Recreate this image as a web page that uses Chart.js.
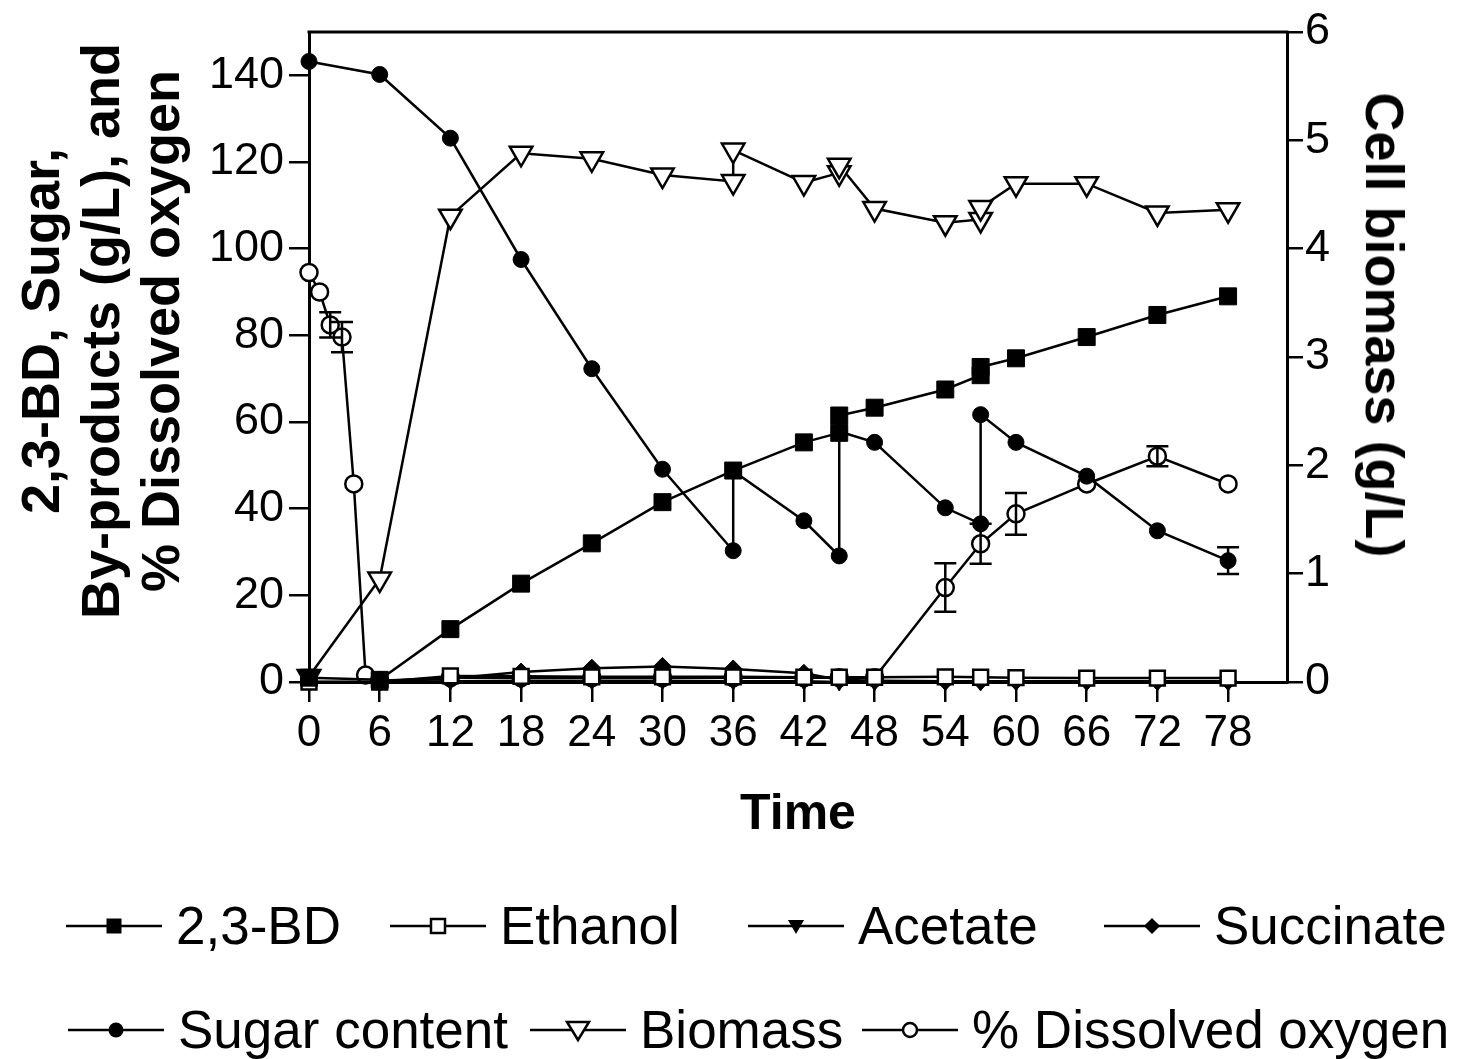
<!DOCTYPE html>
<html><head><meta charset="utf-8">
<script src="https://cdn.jsdelivr.net/npm/chart.js@4.4.1/dist/chart.umd.min.js"></script>
<style>
html,body{margin:0;padding:0;background:#fff;}
#wrap{position:relative;width:1468px;height:1059px;overflow:hidden;background:#fff;}
canvas{position:absolute;left:0;top:0;}
.lg{position:absolute;display:flex;align-items:center;height:60px;font-family:"Liberation Sans",Arial,sans-serif;font-size:53px;line-height:60px;color:#000;white-space:nowrap;}
.lg svg{margin-right:14px;flex:none;}
.ytitle{position:absolute;font-family:"Liberation Sans",Arial,sans-serif;font-weight:bold;font-size:54px;line-height:60px;color:#000;white-space:nowrap;text-align:center;}
</style></head><body>
<div id="wrap"><canvas id="c" width="1468" height="1059"></canvas><div id="titles"></div><div id="legend"></div></div>
<script>
// ---- Data ----
const xTicks = [0, 6, 12, 18, 24, 30, 36, 42, 48, 54, 60, 66, 72, 78];
const yLeftTicks = [0, 20, 40, 60, 80, 100, 120, 140];
const yRightTicks = [0, 1, 2, 3, 4, 5, 6];

const timeBD = [0, 6, 12, 18, 24, 30, 36, 42, 45, 45, 48, 54, 57, 57, 60, 66, 72, 78];
const bd = [1, 0.5, 12.2, 22.7, 32, 41.5, 48.8, 55.3, 57.5, 61.5, 63.3, 67.5, 70.8, 72.7, 74.7, 79.6, 84.7, 89];

const timeProd = [0, 6, 12, 18, 24, 30, 36, 42, 45, 48, 54, 57, 60, 66, 72, 78];
const ethanol = [0, 0, 1.4, 1.3, 1.2, 1.2, 1.2, 1.1, 1.1, 1.1, 1.2, 1.1, 1.0, 0.9, 0.9, 0.9];
const acetate = [0, 0, 0.2, 0.3, 0.3, 0.3, 0.2, 0.2, 0, 0, 0, 0, 0, 0, 0, 0];
const succinate = [0, 0, 0.8, 2.3, 3.2, 3.6, 3.0, 2.0, 0.5, 0.3, 0.2, 0.2, 0.2, 0.2, 0.2, 0.2];

const timeSugar = [0, 6, 12, 18, 24, 30, 36, 36, 42, 45, 45, 48, 54, 57, 57, 60, 66, 72, 78];
const sugar = [143.2, 140.2, 125.5, 97.5, 72.3, 49.1, 30.3, 48.7, 37.2, 29.1, 57.8, 55.3, 40.2, 36.5, 61.7, 55.3, 47.5, 34.9, 28];
const sugarErr = [0, 0, 0, 0, 0, 0, 0, 0, 0, 0, 0, 0, 0, 0, 0, 0, 0, 0, 3.1];

const timeBio = [0, 6, 12, 18, 24, 30, 36, 36, 42, 45, 45, 48, 54, 57, 57, 60, 66, 72, 78];
const biomass = [0.05, 0.95, 4.30, 4.88, 4.83, 4.68, 4.62, 4.91, 4.61, 4.70, 4.77, 4.37, 4.24, 4.27, 4.38, 4.60, 4.60, 4.33, 4.36];

const timeDO = [0, 0.9, 1.8, 2.8, 3.8, 4.8, 6, 12, 18, 24, 30, 36, 42, 45, 48, 54, 57, 60, 66, 72, 78];
const dissolvedO2 = [94.5, 90, 82.4, 79.6, 45.7, 1.6, 0.3, 1, 1, 1, 1, 1, 1, 1, 1, 21.8, 31.9, 38.8, 45.7, 52.1, 45.7];
const dissolvedO2Err = [0, 0, 2.9, 3.5, 0, 0, 0, 0, 0, 0, 0, 0, 0, 0, 0, 5.6, 4.6, 4.8, 0, 2.3, 0];

const seriesNames = ['2,3-BD', 'Ethanol', 'Acetate', 'Succinate', 'Sugar content', 'Biomass', '% Dissolved oxygen'];
const xTitle = 'Time';
const yLeftTitle = ['2,3-BD, Sugar,', 'By-products (g/L), and', '% Dissolved oxygen'];
const yRightTitle = 'Cell biomass (g/L)';

// ---- helpers ----
const pts = (xs, ys) => xs.map((x, i) => ({x: x, y: ys[i]}));
const FONT = '"Liberation Sans", Arial, sans-serif';
Chart.defaults.font.family = FONT;
Chart.defaults.color = '#000';

function lineDs(label, data, style, extra) {
  return Object.assign({
    label: label, data: data, borderColor: '#000', borderWidth: 2.5,
    pointBorderColor: '#000', pointBorderWidth: 2.5, tension: 0, clip: false,
    pointStyle: style, yAxisID: 'y', showLine: true, fill: false
  }, extra);
}

const datasets = [
  lineDs(seriesNames[0], pts(timeBD, bd), 'rect', {pointRadius: 12, pointBackgroundColor: '#000', pointBorderWidth: 1}),
  lineDs(seriesNames[1], pts(timeProd, ethanol), 'rect', {pointRadius: 10.5, pointBackgroundColor: '#fff'}),
  lineDs(seriesNames[2], pts(timeProd, acetate), 'triangle', {pointRadius: 9, pointRotation: 180, pointBackgroundColor: '#000', pointBorderWidth: 1}),
  lineDs(seriesNames[3], pts(timeProd, succinate), 'rectRot', {pointRadius: 9, pointBackgroundColor: '#000', pointBorderWidth: 1}),
  lineDs(seriesNames[4], pts(timeSugar, sugar), 'circle', {pointRadius: 8, pointBackgroundColor: '#000', pointBorderWidth: 1, errors: sugarErr}),
  lineDs(seriesNames[5], pts(timeBio, biomass), 'triangle', {pointRadius: 13, pointRotation: 180, pointBackgroundColor: '#fff', yAxisID: 'y2'}),
  lineDs(seriesNames[6], pts(timeDO, dissolvedO2), 'circle', {pointRadius: 8.5, pointBackgroundColor: '#fff', errors: dissolvedO2Err})
];

const errorBars = {
  id: 'errorBars',
  afterDatasetsDraw(chart) {
    const ctx = chart.ctx;
    const xs = chart.scales.x;
    chart.data.datasets.forEach(ds => {
      if (!ds.errors) return;
      const ys = chart.scales[ds.yAxisID];
      ctx.save();
      ctx.strokeStyle = '#000';
      ctx.lineWidth = 2.5;
      ds.data.forEach((p, i) => {
        const e = ds.errors[i];
        if (!e) return;
        const px = xs.getPixelForValue(p.x);
        const top = ys.getPixelForValue(p.y + e);
        const bot = ys.getPixelForValue(p.y - e);
        const cap = 11;
        ctx.beginPath();
        ctx.moveTo(px, top); ctx.lineTo(px, bot);
        ctx.moveTo(px - cap, top); ctx.lineTo(px + cap, top);
        ctx.moveTo(px - cap, bot); ctx.lineTo(px + cap, bot);
        ctx.stroke();
      });
      ctx.restore();
    });
  }
};

const frameTop = {
  id: 'frameTop',
  afterDraw(chart) {
    const a = chart.chartArea, ctx = chart.ctx;
    ctx.save();
    ctx.strokeStyle = '#000'; ctx.lineWidth = 3;
    ctx.beginPath(); ctx.moveTo(a.left - 1.5, a.top); ctx.lineTo(a.right + 1.5, a.top); ctx.stroke();
    ctx.restore();
  }
};

const keepTicks = (list) => (scale) => {
  scale.ticks = list.map(v => ({value: v}));
};

new Chart(document.getElementById('c'), {
  type: 'scatter',
  data: {datasets: datasets},
  options: {
    responsive: false, animation: false, devicePixelRatio: 1,
    layout: {padding: {top: 28, left: 0, right: 0, bottom: 214}},
    plugins: {legend: {display: false}, tooltip: {enabled: false}},
    scales: {
      x: {
        type: 'linear', min: 0, max: 83, position: 'bottom',
        afterBuildTicks: keepTicks(xTicks),
        afterFit: s => { s.height = 163; },
        ticks: {font: {size: 44}, color: '#000', padding: 5, maxRotation: 0, autoSkip: false},
        grid: {display: true, drawOnChartArea: false, drawTicks: true, tickLength: 20, color: '#000', lineWidth: 2.5},
        border: {display: true, color: '#000', width: 3},
        title: {display: true, text: xTitle, font: {size: 50, weight: 'bold'}, color: '#000', padding: {top: 0, bottom: 0}}
      },
      y: {
        type: 'linear', min: 0, max: 150, position: 'left',
        afterBuildTicks: keepTicks(yLeftTicks),
        afterFit: s => { s.width = 309; },
        ticks: {font: {size: 45}, color: '#000', padding: 5},
        grid: {display: true, drawOnChartArea: false, drawTicks: true, tickLength: 20, color: '#000', lineWidth: 2.5},
        border: {display: true, color: '#000', width: 3},
        title: {display: false}
      },
      y2: {
        type: 'linear', min: 0, max: 6, position: 'right',
        afterBuildTicks: keepTicks(yRightTicks),
        afterFit: s => { s.width = 181; },
        ticks: {font: {size: 45}, color: '#000', padding: 2},
        grid: {display: true, drawOnChartArea: false, drawTicks: true, tickLength: 16, color: '#000', lineWidth: 2.5},
        border: {display: true, color: '#000', width: 3},
        title: {display: false}
      }
    }
  },
  plugins: [errorBars, frameTop]
});

// ---- vertical axis titles (real text, rotated) ----
const titles = document.getElementById('titles');
function addTitle(lines, cx, cy, deg) {
  const d = document.createElement('div');
  d.className = 'ytitle';
  d.style.left = cx + 'px';
  d.style.top = cy + 'px';
  d.style.transform = 'translate(-50%, -50%) rotate(' + deg + 'deg)';
  lines.forEach((t, i) => {
    const s = document.createElement('div');
    s.textContent = t;
    d.appendChild(s);
  });
  titles.appendChild(d);
}
addTitle(yLeftTitle, 100, 331, -90);
addTitle([yRightTitle], 1385, 325, 90);

// ---- HTML legend (line + marker symbol, real text) ----
function symbol(kind) {
  const c = 48, m = 15;
  let mk = '';
  if (kind === 'sqFill') mk = `<rect x="${c-7.5}" y="${m-7.5}" width="15" height="15" fill="#000"/>`;
  if (kind === 'sqOpen') mk = `<rect x="${c-7}" y="${m-7}" width="14" height="14" fill="#fff" stroke="#000" stroke-width="2.5"/>`;
  if (kind === 'triFill') mk = `<polygon points="${c-8},${m-6} ${c+8},${m-6} ${c},${m+8}" fill="#000"/>`;
  if (kind === 'diaFill') mk = `<polygon points="${c},${m-8} ${c+8},${m} ${c},${m+8} ${c-8},${m}" fill="#000"/>`;
  if (kind === 'cirFill') mk = `<circle cx="${c}" cy="${m}" r="7.5" fill="#000"/>`;
  if (kind === 'triOpen') mk = `<polygon points="${c-11},${m-8} ${c+11},${m-8} ${c},${m+10}" fill="#fff" stroke="#000" stroke-width="2.5"/>`;
  if (kind === 'cirOpen') mk = `<circle cx="${c}" cy="${m}" r="7" fill="#fff" stroke="#000" stroke-width="2.5"/>`;
  return `<svg width="96" height="30" viewBox="0 0 96 30"><line x1="0" y1="${m}" x2="96" y2="${m}" stroke="#000" stroke-width="2.5"/>${mk}</svg>`;
}
const legendItems = [
  {name: seriesNames[0], kind: 'sqFill', left: 66, top: 896},
  {name: seriesNames[1], kind: 'sqOpen', left: 390, top: 896},
  {name: seriesNames[2], kind: 'triFill', left: 748, top: 896},
  {name: seriesNames[3], kind: 'diaFill', left: 1104, top: 896},
  {name: seriesNames[4], kind: 'cirFill', left: 68, top: 1000},
  {name: seriesNames[5], kind: 'triOpen', left: 530, top: 1000},
  {name: seriesNames[6], kind: 'cirOpen', left: 862, top: 1000}
];
const lg = document.getElementById('legend');
legendItems.forEach(it => {
  const d = document.createElement('div');
  d.className = 'lg';
  d.style.left = it.left + 'px';
  d.style.top = it.top + 'px';
  d.innerHTML = symbol(it.kind) + '<span></span>';
  d.querySelector('span').textContent = it.name;
  lg.appendChild(d);
});
</script>
</body></html>
